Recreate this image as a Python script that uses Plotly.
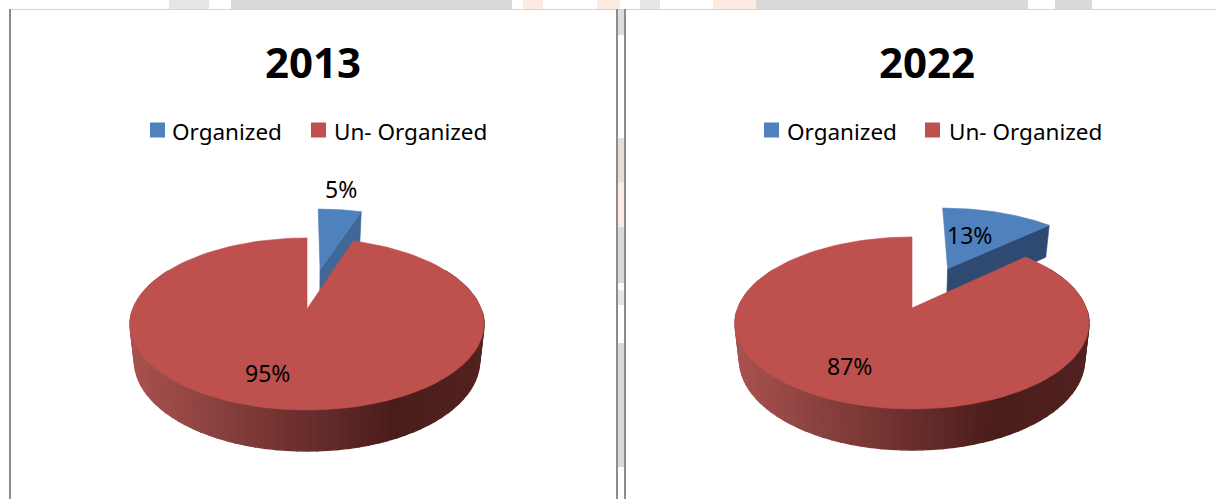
import math
import plotly.graph_objects as go

# ---- data ----
years = ["2013", "2022"]
categories = ["Organized", "Un- Organized"]
organized = [5, 13]
unorganized = [95, 87]

# ---- styles / layout ----
BLUE = "#4F81BD"
RED = "#BE504D"
BLUE_DARK = ["#3F6797", "#2E4A72"]
CX = [307, 912]
Y0 = [309, 308]
TITLE_X = [313, 927]
TITLE_Y = 61
LEG_Y = 131
LEG_SWATCH_X = [[157.5, 318.5], [771.5, 932.5]]
LEG_TEXT_X = [[169.5, 332], [784.5, 947]]
ORG_LABEL = [(341, 189), (969, 235)]
UNORG_LABEL = [(267, 373), (849, 366)]
A, B, K = 83.4, 174.3, 0.174      # perspective model of the disc
DROP, SHRINK = 36, 0.975          # thickness
EXPLODE = [0.52, 0.56]
FONT = "Noto Sans"


def project(cx, y0, u, v, low=False):
    s = 1 / (1 + K * v)
    if low:
        return cx + SHRINK * B * u * s, y0 + (DROP - SHRINK * A * v) * s
    return cx + B * u * s, y0 - A * v * s


def arc(cx, y0, t0, t1, off=(0, 0), low=False, n=120):
    pts = []
    for i in range(n + 1):
        t = math.radians(t0 + (t1 - t0) * i / n)
        pts.append(project(cx, y0, math.sin(t) + off[0], math.cos(t) + off[1], low))
    return pts


def lerp_side(frac):
    stops = [(0.0, (168, 82, 79)), (0.74, (74, 29, 27)), (1.0, (82, 34, 32))]
    for (f0, c0), (f1, c1) in zip(stops, stops[1:]):
        if frac <= f1:
            w = (frac - f0) / (f1 - f0)
            return "rgb(%d,%d,%d)" % tuple(round(a + (b - a) * w) for a, b in zip(c0, c1))
    return "rgb(82,34,32)"


fig = go.Figure()


def poly(pts, color, lw=0.6):
    xs = [p[0] for p in pts] + [pts[0][0]]
    ys = [p[1] for p in pts] + [pts[0][1]]
    fig.add_trace(go.Scatter(x=xs, y=ys, mode="lines", fill="toself", fillcolor=color,
                             line=dict(color=color, width=lw), hoverinfo="skip",
                             showlegend=False))


for i, year in enumerate(years):
    cx, y0 = CX[i], Y0[i]
    total = organized[i] + unorganized[i]
    sweep = 360 * organized[i] / total
    mid = math.radians(sweep / 2)
    off = (EXPLODE[i] * math.sin(mid), EXPLODE[i] * math.cos(mid))

    # exploded slice: cut face, then top
    e = math.radians(sweep)
    eu, ev = math.sin(e) + off[0], math.cos(e) + off[1]
    poly([project(cx, y0, off[0], off[1]), project(cx, y0, eu, ev),
          project(cx, y0, eu, ev, True), project(cx, y0, off[0], off[1], True)], BLUE_DARK[i])
    poly([project(cx, y0, off[0], off[1])] + arc(cx, y0, 0, sweep, off), BLUE)

    # main slice: side wall, extended round the widest part of the ellipse
    poly(arc(cx, y0, 60, 92, n=20) + arc(cx, y0, 60, 92, low=True, n=20)[::-1], lerp_side(1))
    poly(arc(cx, y0, 268, 300, n=20) + arc(cx, y0, 268, 300, low=True, n=20)[::-1], lerp_side(0))
    bands = 60
    for b in range(bands):
        t0 = 92 + 176 * b / bands
        t1 = 92 + 176 * (b + 1) / bands
        top = arc(cx, y0, t0, t1, n=3)
        low = arc(cx, y0, t0, t1, low=True, n=3)
        xm = (top[0][0] + top[-1][0]) / 2
        frac = min(1, max(0, (xm - (cx - 177)) / 354))
        poly(top + low[::-1], lerp_side(frac), lw=1.4)

    # main slice: top
    poly([project(cx, y0, 0, 0)] + arc(cx, y0, sweep, 360), RED)

    # legend swatches
    for j, c in enumerate([BLUE, RED]):
        fig.add_trace(go.Scatter(x=[LEG_SWATCH_X[i][j]], y=[LEG_Y - 1], mode="markers",
                                 marker=dict(symbol="square", size=15, color=c),
                                 hoverinfo="skip", showlegend=False))
        fig.add_annotation(x=LEG_TEXT_X[i][j], y=LEG_Y, text=categories[j], showarrow=False,
                           xanchor="left", yanchor="middle",
                           font=dict(family=FONT, size=22.5, color="#000"))

    fig.add_annotation(x=TITLE_X[i], y=TITLE_Y, text="<b>%s</b>" % year, showarrow=False,
                       xanchor="center", yanchor="middle",
                       font=dict(family=FONT, size=42, color="#000"))
    fig.add_annotation(x=ORG_LABEL[i][0], y=ORG_LABEL[i][1], text="%d%%" % organized[i],
                       showarrow=False, font=dict(family=FONT, size=23, color="#000"))
    fig.add_annotation(x=UNORG_LABEL[i][0], y=UNORG_LABEL[i][1], text="%d%%" % unorganized[i],
                       showarrow=False, font=dict(family=FONT, size=23, color="#000"))

# backdrop fragments and panel frames
GRAY = "#D9D9D9"
PEACH = "#FCEBE0"
strip = [(169, 209, "#E6E6E6"), (231, 512, GRAY), (523, 543, PEACH), (597, 620, PEACH),
         (640, 660, "#E6E6E6"), (713, 756, PEACH), (756, 1028, GRAY), (1055, 1092, GRAY)]
gap = [(10, 35, "#DDDDDD"), (138, 182, "#E8DDD5"), (182, 227, PEACH), (227, 283, GRAY),
       (290, 305, "#E6E6E6"), (343, 467, GRAY)]
shapes = []
for x0, x1, c in strip:
    shapes.append(dict(type="rect", x0=x0, x1=x1, y0=0, y1=9, fillcolor=c, line_width=0, layer="below"))
for y_0, y_1, c in gap:
    shapes.append(dict(type="rect", x0=618, x1=624, y0=y_0, y1=y_1, fillcolor=c, line_width=0, layer="below"))
shapes.append(dict(type="line", x0=9, x1=1216, y0=9.5, y1=9.5, line=dict(color="#D4D4D4", width=1), layer="below"))
for x in (10, 617, 625):
    shapes.append(dict(type="line", x0=x, x1=x, y0=9, y1=499, line=dict(color="#8C8C8C", width=2), layer="below"))

fig.update_layout(
    width=1216, height=499, margin=dict(l=0, r=0, t=0, b=0),
    paper_bgcolor="white", plot_bgcolor="white", showlegend=False, shapes=shapes,
    xaxis=dict(range=[0, 1216], visible=False, fixedrange=True),
    yaxis=dict(range=[499, 0], visible=False, fixedrange=True),
)
fig.write_html("out.html", config=dict(displayModeBar=False),
               post_script="document.body.style.margin='0';")
